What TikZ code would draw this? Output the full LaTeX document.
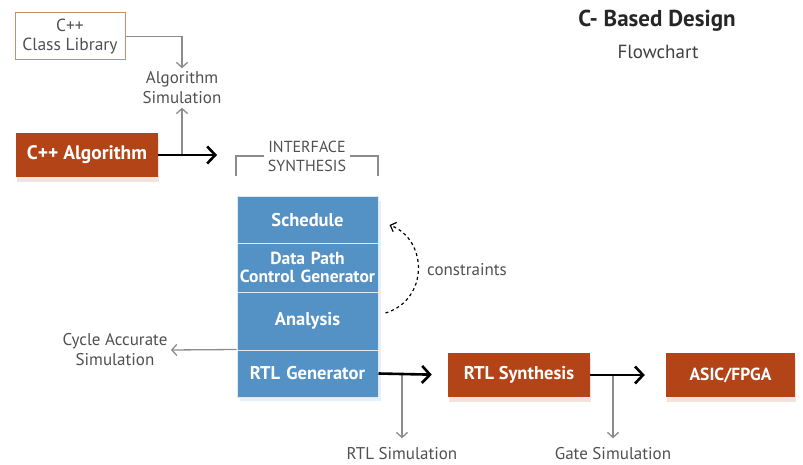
\documentclass[tikz,border=0pt]{standalone}
\usepackage{fontspec}
\setmainfont{PT Sans}
\usetikzlibrary{arrows.meta,shadows}
\definecolor{rust}{RGB}{178,68,24}
\definecolor{stackblue}{RGB}{84,145,196}
\definecolor{notegray}{RGB}{80,80,80}
\definecolor{linegray}{RGB}{140,140,140}
\definecolor{libedge}{RGB}{205,140,110}
\begin{document}
\begin{tikzpicture}[x=1pt,y=-1pt,
    block/.style={fill=rust,text=white,inner sep=0pt,minimum height=44pt,
      font=\bfseries\fontsize{18.5}{20}\selectfont,
      drop shadow={shadow xshift=1pt,shadow yshift=-5pt,opacity=.3,fill=rust!50}},
    stage/.style={fill=stackblue,text=white,draw=white!80!stackblue,line width=1pt,
      inner sep=0pt,minimum width=141pt,text width=139pt,align=center,
      font=\bfseries\fontsize{18.5}{18}\selectfont,
      drop shadow={shadow xshift=3pt,shadow yshift=-4pt,opacity=.35,fill=stackblue!40}},
    note/.style={text=notegray,align=center,font=\fontsize{17}{20}\selectfont},
    mainflow/.style={line width=2.6pt,-{Straight Barb[length=8pt,width=17pt,line width=2.6pt]}},
    sideflow/.style={linegray,line width=1.3pt,-{Straight Barb[length=5pt,width=11pt]}}]
  \useasboundingbox (0,0) rectangle (803,465);

  % title
  \node[font=\bfseries\fontsize{23}{25}\selectfont,text=black!85] (title) at (657,21) {C- Based Design};
  \node[font=\fontsize{19}{21}\selectfont,text=black!75] (subtitle) at (658,52) {Flowchart};

  % algorithm level
  \node[draw=libedge,line width=1pt,minimum width=110pt,minimum height=47pt,
    note,font=\fontsize{17.5}{19}\selectfont] (classlib) at (70,36.5) {C++\\Class Library};
  \node[note] (algsim) at (182,88) {Algorithm\\Simulation};
  \node[block,minimum width=142pt,font=\bfseries\fontsize{19.5}{20}\selectfont] (cppalg) at (87,155) {C++ Algorithm};
  \coordinate (algbranch) at (182,155);
  \coordinate (algout) at (217,155);

  % interface synthesis bracket
  \node[note,font=\fontsize{16}{19}\selectfont] (iface) at (307,156) {INTERFACE\\SYNTHESIS};
  \draw[linegray,line width=1.3pt] (iface.west) -| (236,176);
  \draw[linegray,line width=1.3pt] (iface.east) -| (378,176);

  % synthesis stack
  \node[stage,minimum height=46pt] (schedule) at (307.5,220) {Schedule};
  \node[stage,minimum height=49pt,font=\bfseries\fontsize{17.5}{18}\selectfont] (datapath) at (307.5,267.5) {Data Path\\Control Generator};
  \node[stage,minimum height=58pt] (analysis) at (307.5,321) {Analysis};
  \node[stage,minimum height=47pt] (rtlgen) at (307.5,373.5) {RTL Generator};

  % implementation
  \node[block,minimum width=142pt] (rtlsyn) at (519,375) {RTL Synthesis};
  \node[block,minimum width=129pt,font=\bfseries\fontsize{17.5}{20}\selectfont] (asic) at (730.5,375) {ASIC/FPGA};
  \coordinate (rtlbranch) at (402,375);
  \coordinate (gatebranch) at (613,375);

  \node[note] (cycsim) at (115,350) {Cycle Accurate\\Simulation};
  \node[note] (rtlsim) at (402,454) {RTL Simulation};
  \node[note] (gatesim) at (613,454) {Gate Simulation};
  \node[note] (constr) at (467,270) {constraints};

  % flow
  \draw[sideflow] (classlib.east) -| (algsim.north);
  \draw[sideflow] (algbranch) -- (algsim.south);
  \draw[mainflow] (cppalg.east) -- (algout);
  \draw[sideflow] (rtlgen.north west) -- (cycsim.east);
  \draw[sideflow,shorten >=6pt] (rtlbranch) -- (rtlsim.north);
  \draw[sideflow,shorten >=6pt] (gatebranch) -- (gatesim.north);
  \draw[mainflow,shorten >=16pt] (rtlgen.east) -- (rtlsyn.west);
  \draw[mainflow,shorten >=21pt] (rtlsyn.east) -- (asic.west);
  \draw[dashed,line width=1.2pt,-{Straight Barb[length=5pt,width=10pt]}]
    ([shift={(7,-8)}]analysis.east) .. controls ([shift={(50,-21)}]analysis.east)
    and ([shift={(50,-81)}]analysis.east) .. ([shift={(11,5)}]schedule.east);
\end{tikzpicture}
\end{document}
